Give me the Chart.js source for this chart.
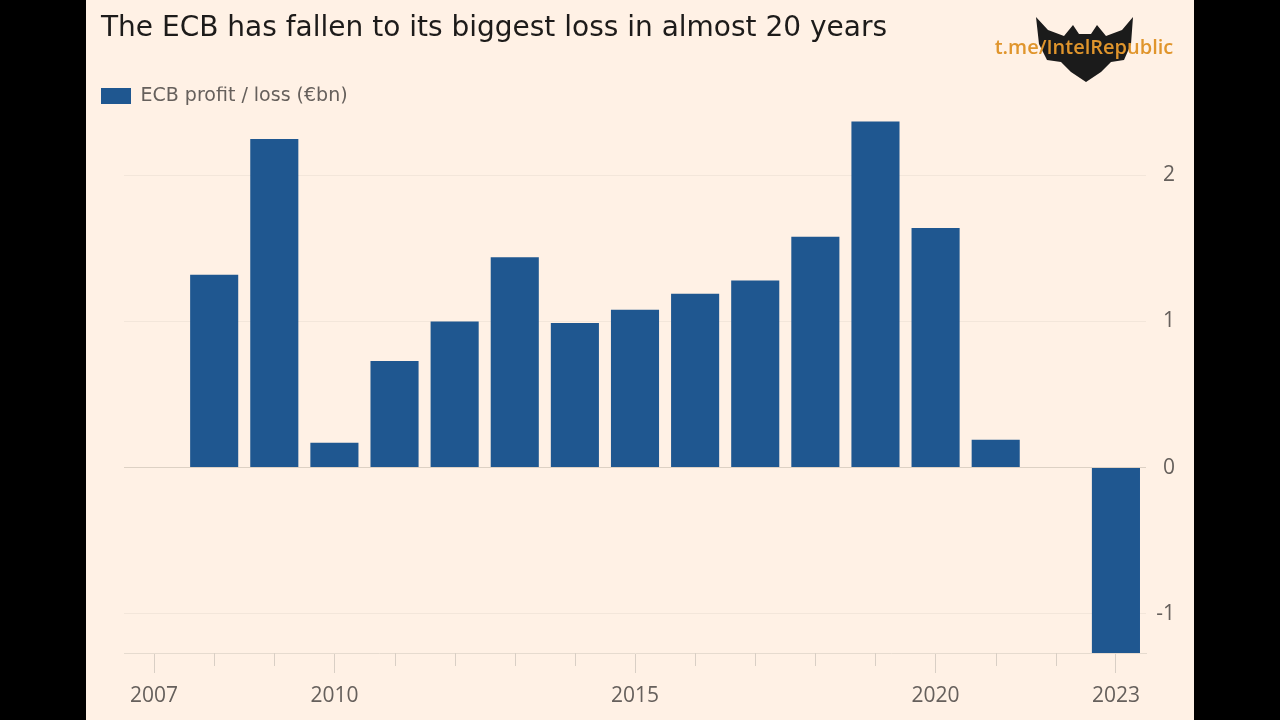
<!DOCTYPE html>
<html><head><meta charset="utf-8">
<script src="https://cdn.jsdelivr.net/npm/chart.js@4"></script>
<style>
html,body{margin:0;padding:0;background:#000;width:1280px;height:720px;overflow:hidden}
#wrap{position:absolute;left:86px;top:0;width:1108px;height:720px;background:#fff1e5}
canvas{display:block}
</style></head><body><div id="wrap"><canvas id="c" width="1108" height="720"></canvas></div>
<script>
const years = ['2007','2008','2009','2010','2011','2012','2013','2014','2015','2016','2017','2018','2019','2020','2021','2022','2023'];
const profitLoss = [null,1.32,2.25,0.17,0.73,1.00,1.44,0.99,1.08,1.19,1.28,1.58,2.37,1.64,0.19,0,-1.27];
const xTickLabels = ['2007','2010','2015','2020','2023'];
const yTicks = [-1,0,1,2];
const seriesName = 'ECB profit / loss (€bn)';
const titleText = 'The ECB has fallen to its biggest loss in almost 20 years';
const watermarkText = 't.me/IntelRepublic';

const FONT = '"Open Sans", Lato, sans-serif';
const HEAD = '"DejaVu Sans", "Open Sans", sans-serif';
const LABEL = '#66605c';
const BAR = '#1f5790';

const minorTicks = {
  id: 'minorTicks',
  afterDatasetsDraw(chart) {
    const x = chart.scales.x, ctx = chart.ctx, b = chart.chartArea.bottom;
    ctx.save();
    ctx.strokeStyle = '#d9cfc5';
    ctx.lineWidth = 1;
    years.forEach((y, i) => {
      if (xTickLabels.includes(y)) return;
      const px = Math.round(x.getPixelForTick(i)) + 0.5;
      ctx.beginPath(); ctx.moveTo(px, b); ctx.lineTo(px, b + 13); ctx.stroke();
    });
    ctx.restore();
  }
};

const watermark = {
  id: 'watermark',
  afterDraw(chart) {
    const ctx = chart.ctx, ox = -86;
    const pts = [[1036,17],[1048,30],[1064,36],[1073,25],[1079,34],[1091,34],[1097,25],[1106,36],[1122,30],[1133,17],[1131,44],[1124,60],[1111,62],[1101,72],[1086,82],[1071,72],[1061,62],[1047,60],[1039,44]];
    ctx.save();
    ctx.fillStyle = '#1b1b1b';
    ctx.beginPath();
    pts.forEach((p, i) => i ? ctx.lineTo(p[0] + ox, p[1]) : ctx.moveTo(p[0] + ox, p[1]));
    ctx.closePath(); ctx.fill();
    ctx.fillStyle = '#e0952c';
    ctx.font = '600 20px ' + FONT;
    ctx.textAlign = 'center'; ctx.textBaseline = 'middle';
    ctx.fillText(watermarkText, 1084 + ox, 48);
    ctx.restore();
  }
};

new Chart(document.getElementById('c'), {
  type: 'bar',
  data: {
    labels: years,
    datasets: [{
      label: seriesName,
      data: profitLoss,
      backgroundColor: BAR,
      borderWidth: 0,
      categoryPercentage: 1,
      barPercentage: 0.8,
      yAxisID: 'y'
    }]
  },
  options: {
    responsive: false,
    animation: false,
    devicePixelRatio: 1,
    layout: { padding: { left: 15, right: 19, top: 0, bottom: 0 } },
    plugins: {
      tooltip: { enabled: false },
      title: {
        display: true, text: titleText, align: 'start', color: '#1d1b1a',
        font: { family: HEAD, size: 28, weight: 'normal' },
        padding: { top: 12, bottom: 41 }
      },
      legend: {
        position: 'top', align: 'start',
        labels: { boxWidth: 30, boxHeight: 16, padding: 0, color: LABEL, font: { family: HEAD, size: 19 } }
      }
    },
    scales: {
      x: {
        offset: true,
        grid: {
          offset: false, drawOnChartArea: false, drawTicks: true, tickLength: 20,
          tickColor: c => xTickLabels.includes(years[c.index]) ? '#d9cfc5' : 'rgba(0,0,0,0)'
        },
        border: { display: true, color: '#e6dbcf' },
        ticks: {
          autoSkip: false, maxRotation: 0, padding: 10, color: LABEL,
          font: { family: FONT, size: 21 },
          callback: function (v) { const l = this.getLabelForValue(v); return xTickLabels.includes(l) ? l : ''; }
        },
        afterFit: s => { s.height = 67; }
      },
      y: {
        position: 'right', min: -1.27, max: 2.41,
        afterBuildTicks: s => { s.ticks = yTicks.map(v => ({ value: v })); },
        grid: { drawTicks: false, color: c => c.tick && c.tick.value === 0 ? '#ddd1c4' : '#f3e6da' },
        border: { display: false },
        ticks: { padding: 8, crossAlign: 'far', color: LABEL, font: { family: FONT, size: 21 } },
        afterFit: s => { s.width = 29; }
      },
      yl: {
        position: 'left', display: true,
        grid: { display: false }, border: { display: false }, ticks: { display: false },
        afterFit: s => { s.width = 23; }
      }
    }
  },
  plugins: [minorTicks, watermark]
});
</script></body></html>
